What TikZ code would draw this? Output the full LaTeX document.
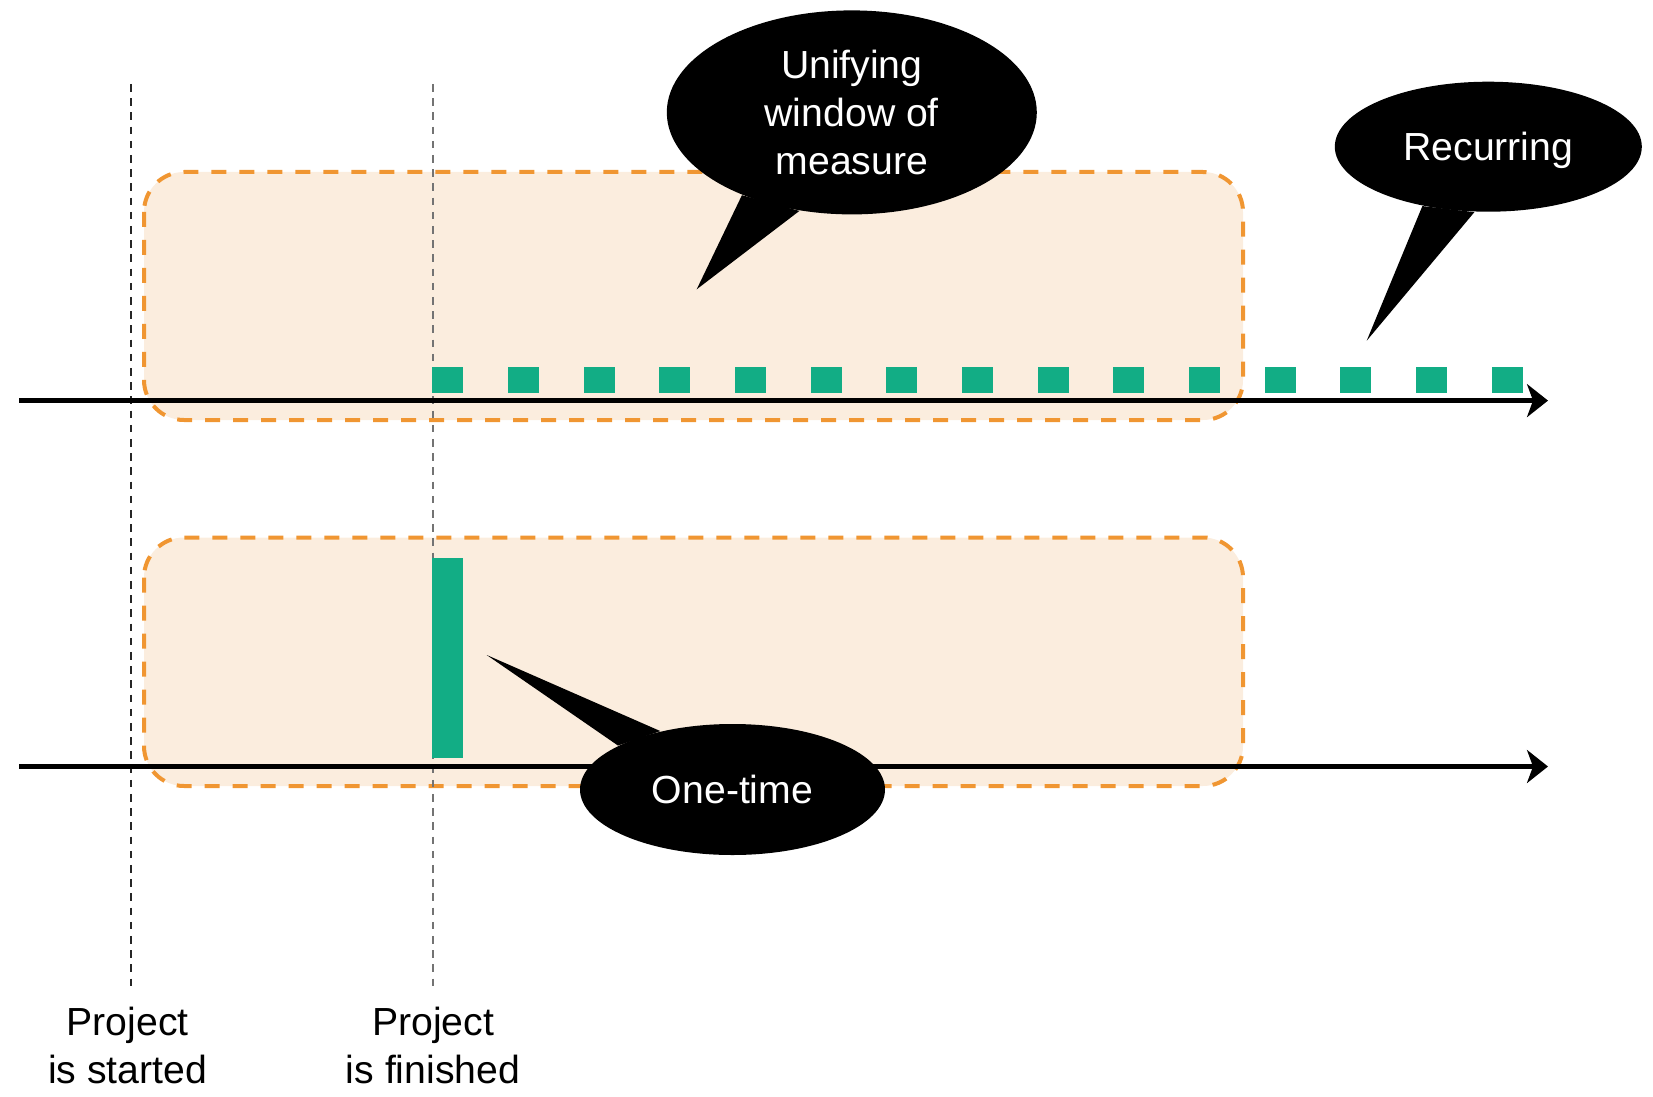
\documentclass[tikz,border=0pt]{standalone}
\usepackage{fontspec}
\setmainfont{Liberation Sans}
\usepackage{tikz}
\usetikzlibrary{arrows.meta,shapes.geometric}
\definecolor{winfill}{RGB}{251,237,222}
\definecolor{winedge}{RGB}{240,150,50}
\definecolor{eventgreen}{RGB}{18,173,133}

\begin{document}
\begin{tikzpicture}[x=0.1mm,y=-0.1mm,
  every node/.style={font=\fontsize{11.15pt}{13.7pt}\selectfont},
  window/.style={fill=winfill,draw=winedge,line width=0.4mm,
                 dash pattern=on 1.5mm off 1.3mm,rounded corners=4mm},
  guide/.style={line width=0.17mm,dash pattern=on 0.77mm off 0.65mm},
  axis/.style={line width=0.55mm,-{Stealth[length=2.1mm,width=3.3mm,inset=0.6mm]}},
  tick/.style={fill=eventgreen},
  callout/.style={ellipse,fill=black,text=white,align=center,inner sep=0pt},
  lbl/.style={align=center,inner sep=0pt}]

\useasboundingbox (0,0) rectangle (1653,1096);
\def\pitch{75.67}

% --- windows of measure
\draw[window] (144,172) rectangle (1243,420);
\draw[window] (144,537.5) rectangle (1243,786);

% --- milestones
\coordinate (s top) at (130.7,84);
\coordinate (s bot) at (130.7,986);
\coordinate (f top) at (432.7,84);
\coordinate (f bot) at (432.7,986);
\draw[guide,black!85] (s top) -- (s bot);
\draw[guide,black!55] (f top) -- (f bot);
\node[lbl,anchor=north] (started) at (127.7,1006) {Project\\is started};
\node[lbl,anchor=north] (finished) at (433,1006) {Project\\is finished};

% --- recurring events
\foreach \i in {0,...,14}{
  \fill[tick] (432.3+\i*\pitch,367.3) rectangle ++(31,25.3);
}
% --- one-time event
\fill[tick] (432.3,558.3) rectangle (463.3,758.3);

% --- time axes
\coordinate (a0) at (19,400.6);
\coordinate (a1) at (1548,400.6);
\coordinate (b0) at (19,766.5);
\coordinate (b1) at (1548,766.5);
\draw[axis] (a0) -- (a1);
\draw[axis] (b0) -- (b1);

% --- callouts
\node[callout,minimum width=37mm,minimum height=20.4mm] (unify) at (851.8,112.4)
  {Unifying\\window of\\measure};
\coordinate (utip) at (696.7,289.3);
\fill (unify.217) -- (utip) -- (unify.242) -- cycle;

\node[callout,minimum width=30.7mm,minimum height=13mm,text height=2.8mm,text depth=0pt]
  (recur) at (1488.3,146.7) {Recurring};
\coordinate (rtip) at (1366.7,340.7);
\fill (recur.222) -- (rtip) -- (recur.258) -- cycle;

\node[callout,minimum width=30.5mm,minimum height=13.1mm,text height=2.8mm,text depth=0pt]
  (once) at (732.5,789.5) {One-time};
\coordinate (otip) at (486.7,655);
\fill (once.159) -- (otip) -- (once.141) -- cycle;
\end{tikzpicture}
\end{document}
